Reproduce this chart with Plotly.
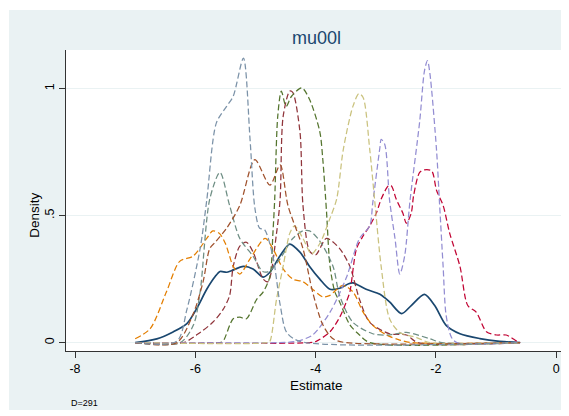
import plotly.graph_objects as go

# ---- data ----
navy_x = [-7.0, -6.64, -6.37, -6.14, -5.98, -5.81, -5.67, -5.59, -5.48, -5.40, -5.20, -5.04, -4.87, -4.76, -4.59, -4.43, -4.26, -4.10, -3.93, -3.76, -3.60, -3.45, -3.38, -3.16, -2.93, -2.77, -2.57, -2.41, -2.19, -2.02, -1.83, -1.60, -1.27, -0.94, -0.6]
navy_y = [0.0, 0.015, 0.042, 0.075, 0.133, 0.21, 0.26, 0.28, 0.277, 0.283, 0.30, 0.29, 0.258, 0.277, 0.342, 0.388, 0.356, 0.30, 0.25, 0.21, 0.214, 0.232, 0.235, 0.21, 0.19, 0.16, 0.114, 0.146, 0.19, 0.146, 0.068, 0.035, 0.016, 0.005, 0.0]

maroon_x = [-7.0, -6.2, -5.92, -5.71, -5.54, -5.43, -5.37, -5.26, -5.15, -5.04, -4.87, -4.79, -4.65, -4.59, -4.54, -4.43, -4.38, -4.26, -4.21, -4.10, -4.00, -3.82, -3.60, -3.43, -3.27, -3.10, -2.77, -2.49, -2.3, -0.6]
maroon_y = [0, 0, 0.04, 0.08, 0.13, 0.185, 0.30, 0.38, 0.395, 0.357, 0.25, 0.24, 0.43, 0.565, 0.89, 0.99, 0.985, 0.83, 0.54, 0.36, 0.345, 0.41, 0.37, 0.30, 0.17, 0.08, 0.035, 0.03, 0, 0]

green_x = [-7.0, -5.6, -5.54, -5.37, -5.26, -5.15, -4.98, -4.87, -4.76, -4.71, -4.68, -4.63, -4.57, -4.49, -4.40, -4.23, -4.10, -3.93, -3.88, -3.82, -3.76, -3.68, -3.60, -3.43, -3.27, -3.1, -0.6]
green_y = [0, 0, 0.005, 0.094, 0.10, 0.094, 0.17, 0.2, 0.26, 0.43, 0.565, 0.89, 0.99, 0.93, 0.97, 1.003, 0.957, 0.83, 0.72, 0.52, 0.30, 0.2, 0.16, 0.07, 0.03, 0, 0]

orange_x = [-7.0, -6.75, -6.48, -6.26, -6.04, -5.81, -5.71, -5.60, -5.50, -5.43, -5.37, -5.26, -5.09, -4.84, -4.71, -4.54, -4.38, -4.21, -4.05, -3.88, -3.77, -3.55, -3.38, -3.21, -3.05, -2.82, -2.60, -2.4, -0.6]
orange_y = [0.015, 0.055, 0.2, 0.32, 0.34, 0.41, 0.44, 0.43, 0.39, 0.34, 0.30, 0.27, 0.33, 0.41, 0.37, 0.29, 0.25, 0.24, 0.21, 0.18, 0.185, 0.225, 0.2, 0.12, 0.068, 0.03, 0.01, 0, 0]

teal_x = [-7.0, -6.25, -6.03, -5.92, -5.76, -5.59, -5.43, -5.26, -5.04, -4.88, -4.78, -4.59, -4.38, -4.21, -4.10, -3.93, -3.71, -3.60, -3.38, -3.05, -2.80, -2.49, -2.10, -1.9, -0.6]
teal_y = [0, 0, 0.07, 0.2, 0.565, 0.67, 0.54, 0.41, 0.34, 0.28, 0.28, 0.33, 0.41, 0.44, 0.44, 0.40, 0.30, 0.185, 0.08, 0.035, 0.03, 0.04, 0.015, 0, 0]

cranberry_x = [-7.0, -4.1, -3.99, -3.76, -3.60, -3.49, -3.43, -3.32, -3.21, -3.10, -2.99, -2.91, -2.79, -2.74, -2.66, -2.55, -2.49, -2.41, -2.37, -2.27, -2.19, -2.07, -1.99, -1.88, -1.77, -1.60, -1.47, -1.33, -1.16, -0.99, -0.83, -0.65, -0.6]
cranberry_y = [0, 0, 0.005, 0.043, 0.10, 0.16, 0.2, 0.37, 0.42, 0.46, 0.51, 0.565, 0.617, 0.617, 0.565, 0.51, 0.47, 0.51, 0.58, 0.67, 0.68, 0.676, 0.60, 0.54, 0.43, 0.30, 0.146, 0.12, 0.043, 0.03, 0.03, 0.005, 0]

lavender_x = [-7.0, -4.6, -4.32, -4.05, -3.76, -3.49, -3.27, -3.10, -3.05, -2.93, -2.91, -2.85, -2.77, -2.68, -2.60, -2.52, -2.43, -2.27, -2.19, -2.14, -2.10, -1.99, -1.94, -1.88, -1.83, -1.74, -1.65, -0.6]
lavender_y = [0, 0, 0.005, 0.03, 0.12, 0.255, 0.41, 0.46, 0.55, 0.77, 0.80, 0.78, 0.56, 0.41, 0.27, 0.34, 0.56, 0.87, 1.07, 1.11, 1.06, 0.76, 0.55, 0.30, 0.107, 0.02, 0, 0]

khaki_x = [-7.0, -4.8, -4.76, -4.65, -4.54, -4.43, -4.35, -4.21, -4.07, -3.93, -3.76, -3.65, -3.54, -3.38, -3.28, -3.21, -3.10, -3.02, -2.91, -2.77, -2.60, -2.32, -2.1, -0.6]
khaki_y = [0, 0, 0.005, 0.17, 0.30, 0.43, 0.46, 0.41, 0.35, 0.39, 0.49, 0.565, 0.76, 0.93, 0.98, 0.965, 0.76, 0.565, 0.30, 0.094, 0.04, 0.02, 0, 0]

sienna_x = [-7.0, -6.31, -6.04, -5.87, -5.76, -5.67, -5.48, -5.26, -5.01, -4.76, -4.59, -4.46, -4.21, -4.05, -3.88, -3.71, -3.5, -0.6]
sienna_y = [0, 0, 0.11, 0.24, 0.37, 0.395, 0.45, 0.54, 0.72, 0.62, 0.70, 0.54, 0.37, 0.2, 0.07, 0.015, 0, 0]

bluegray_x = [-7.0, -6.31, -6.14, -5.92, -5.81, -5.65, -5.48, -5.37, -5.20, -5.09, -5.01, -4.93, -4.85, -4.71, -4.59, -4.48, -4.26, -0.6]
bluegray_y = [0, 0.005, 0.13, 0.37, 0.56, 0.865, 0.93, 0.97, 1.12, 0.80, 0.53, 0.45, 0.445, 0.34, 0.15, 0.04, 0.005, 0]

title_text = "mu00l"
x_ticks = [-8, -6, -4, -2, 0]
x_ticklabels = ["-8", "-6", "-4", "-2", "0"]
y_ticks = [0, 0.5, 1]
y_ticklabels = ["0", ".5", "1"]
note_text = "D=291"

series = [
    (navy_x, navy_y, "#1a476f", "solid", 1.7),
    (maroon_x, maroon_y, "#90353b", "6px,3px", 1.25),
    (green_x, green_y, "#55752f", "6px,3px", 1.25),
    (orange_x, orange_y, "#e37e00", "6px,3px", 1.25),
    (teal_x, teal_y, "#6e8e84", "6px,3px", 1.25),
    (cranberry_x, cranberry_y, "#c10534", "6px,3px", 1.25),
    (lavender_x, lavender_y, "#938dd2", "6px,3px", 1.25),
    (khaki_x, khaki_y, "#cac27e", "6px,3px", 1.25),
    (sienna_x, sienna_y, "#a0522d", "6px,3px", 1.25),
    (bluegray_x, bluegray_y, "#7b92a8", "6px,3px", 1.25),
]

fig = go.Figure()
for xs, ys, col, dash, w in series:
    fig.add_trace(go.Scatter(x=xs, y=ys, mode="lines",
                             line=dict(color=col, dash=dash, width=w, shape="spline", smoothing=0.8),
                             showlegend=False, hoverinfo="skip"))

FONT = "Liberation Sans, Arial, sans-serif"
BG = "#eaf2f3"
fig.update_layout(
    width=561, height=408,
    margin=dict(l=58, r=3, t=42, b=65, autoexpand=False),
    paper_bgcolor=BG, plot_bgcolor="white",
    font=dict(family=FONT, size=12, color="black"),
    showlegend=False,
)
fig.update_xaxes(range=[-8.15, 0.163], tickvals=x_ticks, ticktext=x_ticklabels, automargin=False,
                 showgrid=False, zeroline=False, showline=True, linecolor="#333333", linewidth=1,
                 ticks="outside", ticklen=6, tickcolor="#333333", tickfont=dict(size=12.5, color="black"))
fig.update_yaxes(range=[-0.033, 1.152], tickvals=y_ticks, ticktext=y_ticklabels, tickangle=-90, automargin=False,
                 showgrid=True, gridcolor=BG, gridwidth=1, zeroline=False,
                 showline=True, linecolor="#333333", linewidth=1,
                 ticks="outside", ticklen=6, tickcolor="#333333", tickfont=dict(size=12.5, color="black"))

# thin white frame strips around the grey background
for x0, x1, y0, y1 in [(-0.2, -0.114, -0.3, 1.3), (-0.2, 1.1, 1.133, 1.3), (-0.2, 1.1, -0.3, -0.196)]:
    fig.add_shape(type="rect", xref="paper", yref="paper", x0=x0, x1=x1, y0=y0, y1=y1,
                  fillcolor="white", line=dict(width=0), layer="below")

fig.add_annotation(text=title_text, xref="paper", yref="paper", x=0.5, y=1.04,
                   showarrow=False, font=dict(size=18, color="#1a476f"), xanchor="center", yanchor="middle")
fig.add_annotation(text="Estimate", xref="paper", yref="paper", x=0.5, y=-0.113,
                   showarrow=False, font=dict(size=13.5), xanchor="center", yanchor="middle")
fig.add_annotation(text="Density", xref="paper", yref="paper", x=-0.062, y=0.449, textangle=-90,
                   showarrow=False, font=dict(size=13.5), xanchor="center", yanchor="middle")
fig.add_annotation(text=note_text, xref="paper", yref="paper", x=0.006, y=-0.173,
                   showarrow=False, font=dict(size=9), xanchor="left", yanchor="middle")

fig.write_html("out.html")
